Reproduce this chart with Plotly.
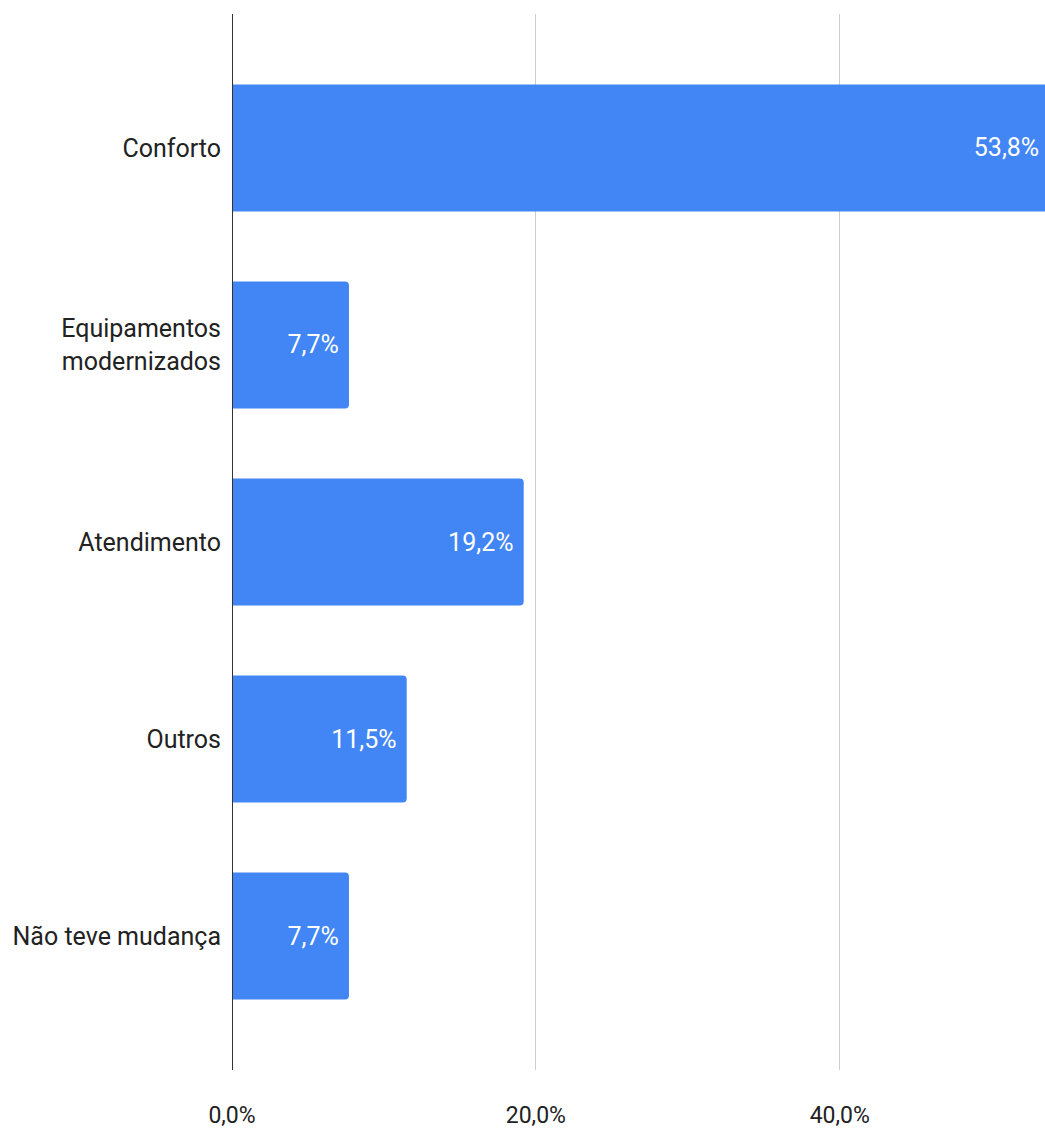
import plotly.graph_objects as go

categories = ["Conforto", "Equipamentos<br>modernizados", "Atendimento", "Outros", "Não teve mudança"]
values = [53.8, 7.7, 19.2, 11.5, 7.7]
labels = ["53,8%", "7,7%", "19,2%", "11,5%", "7,7%"]
tick_vals = [0, 20, 40]
tick_text = ["0,0%", "20,0%", "40,0%"]

FONT = "Roboto, Arial, sans-serif"
PAD = "\u00A0"

fig = go.Figure(go.Bar(
    x=values, y=categories, orientation="h",
    marker=dict(color="#4285F4", line=dict(width=0)),
    text=[t + PAD for t in labels], textposition="inside", insidetextanchor="end",
    textfont=dict(color="white", size=25, family=FONT),
    width=0.645, cliponaxis=False,
))

fig.update_layout(
    width=1060, height=1137,
    margin=dict(l=232, r=0, t=14, b=67),
    paper_bgcolor="white", plot_bgcolor="white",
    barcornerradius=4,
    showlegend=False,
    font=dict(family=FONT, color="#222222"),
    xaxis=dict(range=[0, 54.5], tickvals=tick_vals, ticktext=tick_text,
               showgrid=True, gridcolor="#cccccc", gridwidth=1,
               zeroline=False, showline=False, ticks="", automargin=False,
               tickfont=dict(size=23, family=FONT, color="#222222"),
               ticklabelstandoff=29),
    yaxis=dict(autorange=False, range=[4.68, -0.68], showgrid=False,
               zeroline=False, showline=False, ticks="", automargin=False,
               tickfont=dict(size=25, family=FONT, color="#222222"),
               ticklabelstandoff=10),
    shapes=[dict(type="line", xref="x", yref="paper", x0=0, x1=0, y0=0, y1=1,
                 line=dict(color="#333333", width=2))],
)

fig.write_html(
    "out.html",
    post_script="document.documentElement.style.overflow='hidden';document.body.style.overflow='hidden';",
)
